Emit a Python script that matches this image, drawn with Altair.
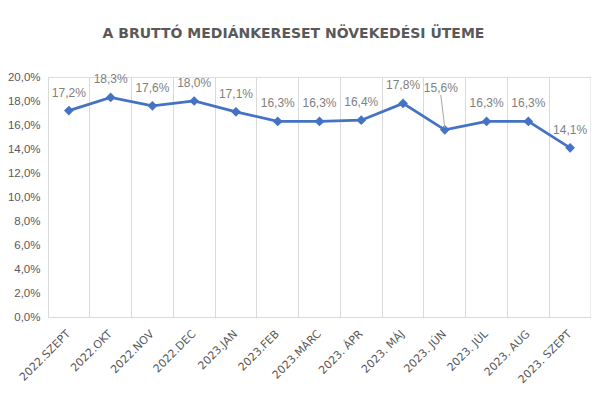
import altair as alt
import pandas as pd

months = ["2022.SZEPT", "2022.OKT", "2022.NOV", "2022.DEC", "2023.JAN", "2023.FEB",
          "2023.MÁRC", "2023. ÁPR", "2023. MÁJ", "2023. JÚN", "2023. JÚL",
          "2023. AUG", "2023. SZEPT"]
growth = [17.2, 18.3, 17.6, 18.0, 17.1, 16.3, 16.3, 16.4, 17.8, 15.6, 16.3, 16.3, 14.1]
y_ticks = [0, 2, 4, 6, 8, 10, 12, 14, 16, 18, 20]

df = pd.DataFrame({"month": months, "growth": growth})

BLUE = "#4472C4"
GREY = "#595959"
GRID = "#d9d9d9"
FONT = "Liberation Sans"
OUTLIER = "2023. JÚN"

x_axis = alt.Axis(
    grid=True, bandPosition=0, gridColor=GRID, gridWidth=1,
    ticks=False, domainColor=GRID, domainWidth=1,
    labelAngle=-45, labelAlign="right", labelBaseline="middle",
    labelPadding=15, labelFont="DejaVu Sans", labelFontSize=11,
    labelColor=GREY, labelOverlap=False,
)
y_axis = alt.Axis(
    values=y_ticks, grid=False, domain=False, ticks=False,
    labelExpr="replace(format(datum.value, '.1f'), '.', ',') + '%'",
    labelFont=FONT, labelFontSize=11.5, labelColor=GREY, labelPadding=8,
    labelOverlap=False,
)
x_scale = alt.Scale(type="band", paddingInner=0, paddingOuter=0)
y_scale = alt.Scale(domain=[0, 20], nice=False)

base = alt.Chart(df).encode(
    x=alt.X("month:N", sort=months, title=None, scale=x_scale, axis=x_axis),
    y=alt.Y("growth:Q", title=None, scale=y_scale, axis=y_axis),
)

# right-hand border line of the last category
edge = alt.Chart(df).transform_filter(
    alt.datum.month == months[-1]
).mark_rule(color=GRID, strokeWidth=1).encode(
    x=alt.X("month:N", sort=months, bandPosition=1, title=None, scale=x_scale, axis=x_axis),
    y=alt.value(0),
    y2=alt.value(240),
)

line = base.mark_line(
    color=BLUE, strokeWidth=2.75,
    point=alt.OverlayMarkDef(shape="diamond", filled=True, color=BLUE, size=95, opacity=1),
)

lbl = "replace(format(datum.growth, '.1f'), '.', ',') + '%'"

labels = base.transform_filter(
    alt.datum.month != OUTLIER
).transform_calculate(lbl=lbl).mark_text(
    dy=-18, font=FONT, fontSize=12, color="#808080"
).encode(text="lbl:N")

label_out = base.transform_filter(
    alt.datum.month == OUTLIER
).transform_calculate(lbl=lbl).mark_text(
    dy=-42, dx=-4, font=FONT, fontSize=12, color="#808080"
).encode(text="lbl:N")

leader = alt.Chart(df).transform_filter(
    alt.datum.month == OUTLIER
).transform_calculate(
    top="datum.growth + 2.9", bot="datum.growth + 0.15"
).mark_rule(color="#a6a6a6", strokeWidth=1, xOffset=-4).encode(
    x=alt.X("month:N", sort=months, title=None, scale=x_scale, axis=x_axis),
    x2=alt.X2("month:N"),
    y=alt.Y("top:Q", title=None, scale=y_scale, axis=y_axis),
    y2="bot:Q",
)

chart = alt.layer(edge, line, labels, label_out, leader).properties(
    width=543, height=240,
    autosize=alt.AutoSizeParams(type="none"),
    padding={"left": 40, "top": 69, "right": 0, "bottom": 80},
    title=alt.Title(
        "A BRUTTÓ MEDIÁNKERESET NÖVEKEDÉSI ÜTEME",
        font="DejaVu Sans", fontSize=14, fontWeight="bold", color=GREY,
        anchor="middle", dx=-26, offset=30,
    ),
).configure_view(stroke=None).configure_axisY(
    labelOverlap=False
).configure(background="white")

chart.save("out.html", embed_options={"renderer": "svg", "actions": False})
